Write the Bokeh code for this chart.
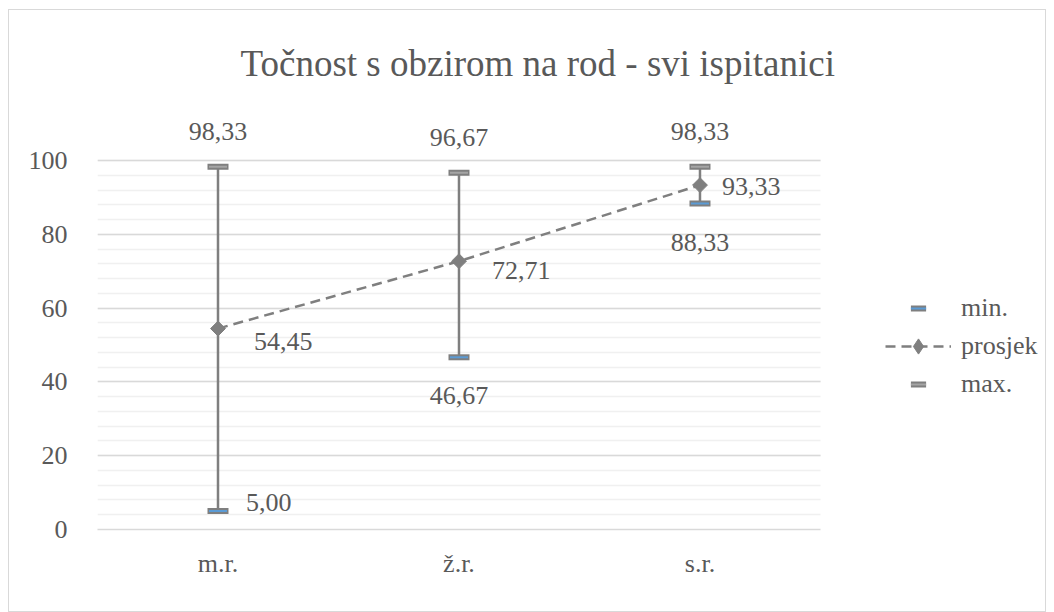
import numpy as np
from bokeh.plotting import figure
from bokeh.models import (ColumnDataSource, Range1d, FixedTicker,
                          Legend, LegendItem, BoxAnnotation)
from bokeh.core.properties import value
from bokeh.embed import file_html
from bokeh.resources import INLINE

# ---- data ----
categories = ["m.r.", "ž.r.", "s.r."]
min_vals = [5.00, 46.67, 88.33]
mean_vals = [54.45, 72.71, 93.33]
max_vals = [98.33, 96.67, 98.33]
y_ticks = [0, 20, 40, 60, 80, 100]
title_text = "Točnost s obzirom na rod - svi ispitanici"

def fmt(v):
    return f"{v:.2f}".replace(".", ",")

# ---- styles ----
FONT = "'Liberation Serif', 'Times New Roman', serif"
TXT = "#595959"
GRAY = "#7f7f7f"
mean_off = [(36, 13), (33, 9), (22, 1)]
min_off = [(28, -9, "left"), (0, 38, "center"), (0, 39, "center")]

xi = list(range(len(categories)))
X_END = len(categories) - 0.5           # right edge of the category area
X_LEG = X_END + 0.942                   # extra room for the legend

src = ColumnDataSource(dict(
    x=xi, mn=min_vals, mean=mean_vals, mx=max_vals,
    mn_lbl=[fmt(v) for v in min_vals],
    mean_lbl=[fmt(v) for v in mean_vals],
    mx_lbl=[fmt(v) for v in max_vals],
    mean_dx=[o[0] for o in mean_off], mean_dy=[o[1] for o in mean_off],
    min_dx=[o[0] for o in min_off], min_dy=[o[1] for o in min_off],
    min_al=[o[2] for o in min_off],
))

p = figure(width=1038, height=603, output_backend="svg", toolbar_location=None,
           x_range=Range1d(-0.5, X_LEG),
           y_range=Range1d(0, 118.97),
           min_border_left=88, min_border_right=0, min_border_bottom=84,
           min_border_top=80,
           styles={"border": "1px solid #d9d9d9", "margin-left": "8px",
                   "margin-top": "9px"})
p.outline_line_color = None
p.background_fill_color = "white"
p.border_fill_color = "white"

p.title.text = title_text
p.title.text_font = FONT
p.title.text_font_size = "37px"
p.title.text_font_style = "normal"
p.title.text_color = TXT
p.title.vertical_align = "top"
p.title.align = "left"
p.title.offset = 143

# axes
p.yaxis.ticker = FixedTicker(ticks=y_ticks, minor_ticks=list(range(0, 101, 4)))
p.yaxis.axis_line_color = None
p.yaxis.major_tick_line_color = None
p.yaxis.minor_tick_line_color = None
p.yaxis.major_label_standoff = 24
p.yaxis.major_label_text_font = FONT
p.yaxis.major_label_text_font_size = "26px"
p.yaxis.major_label_text_color = TXT

p.xaxis.ticker = FixedTicker(ticks=xi)
p.xaxis.major_label_overrides = {i: c for i, c in zip(xi, categories)}
p.xaxis.bounds = (-0.5, X_END)
p.xaxis.axis_line_color = "#d9d9d9"
p.xaxis.axis_line_width = 1.5
p.xaxis.major_tick_line_color = None
p.xaxis.minor_tick_line_color = None
p.xaxis.major_label_standoff = 13
p.xaxis.major_label_text_font = FONT
p.xaxis.major_label_text_font_size = "26px"
p.xaxis.major_label_text_color = TXT

p.xgrid.grid_line_color = None
p.ygrid.grid_line_color = "#d9d9d9"
p.ygrid.grid_line_width = 1.5
p.ygrid.minor_grid_line_color = "#f0f0f0"
p.ygrid.minor_grid_line_width = 1.5
try:
    p.ygrid.cross_bounds = (-0.5, X_END)
except AttributeError:
    p.add_layout(BoxAnnotation(left=X_END, fill_color="white", fill_alpha=1,
                               line_color=None, level="underlay"), "center")

# high-low lines
p.segment(x0="x", y0="mn", x1="x", y1="mx", source=src,
          line_color=GRAY, line_width=2.5)

# min / max markers
mn_o = p.scatter(x="x", y="mn", source=src, marker="dash", size=21,
                 line_color=GRAY, line_width=6)
mn_i = p.scatter(x="x", y="mn", source=src, marker="dash", size=18,
                 line_color="#5b9bd5", line_width=2)
mx_o = p.scatter(x="x", y="mx", source=src, marker="dash", size=21,
                 line_color=GRAY, line_width=6)
mx_i = p.scatter(x="x", y="mx", source=src, marker="dash", size=18,
                 line_color="#a5a5a5", line_width=2)

# mean line + diamonds
mean_line = p.line(x="x", y="mean", source=src, line_color=GRAY,
                   line_width=2.5, line_dash="10 6")
mean_pt = p.scatter(x="x", y="mean", source=src, marker="square",
                    angle=np.pi / 4, size=10.5, fill_color=GRAY, line_color=GRAY)
# legend-only diamond (legend ignores marker angle); NaN point is not drawn
leg_src = ColumnDataSource(dict(x=[np.nan], y=[np.nan]))
leg_diamond = p.scatter(x="x", y="y", source=leg_src, marker="diamond",
                        size=19, fill_color=GRAY, line_color=GRAY)

# data labels
p.text(x="x", y="mx", text="mx_lbl", source=src, y_offset=-35,
       text_align="center", text_baseline="middle", text_font=value(FONT),
       text_font_size="26px", text_color=TXT)
p.text(x="x", y="mean", text="mean_lbl", source=src, x_offset="mean_dx",
       y_offset="mean_dy", text_align="left", text_baseline="middle",
       text_font=value(FONT), text_font_size="26px", text_color=TXT)
p.text(x="x", y="mn", text="mn_lbl", source=src, x_offset="min_dx",
       y_offset="min_dy", text_align="min_al", text_baseline="middle",
       text_font=value(FONT), text_font_size="26px", text_color=TXT)

legend = Legend(items=[
    LegendItem(label="min.", renderers=[mn_o, mn_i]),
    LegendItem(label="prosjek", renderers=[mean_line, leg_diamond]),
    LegendItem(label="max.", renderers=[mx_o, mx_i]),
], location=(788, 126), orientation="vertical",
    glyph_width=66, glyph_height=38, label_height=38, label_width=80,
    spacing=0, label_standoff=10, padding=0, margin=0,
    border_line_color=None, background_fill_alpha=0,
    label_text_font=FONT, label_text_font_size="26px", label_text_color=TXT)
p.add_layout(legend, "center")

open("out.html", "w").write(file_html(p, INLINE))
